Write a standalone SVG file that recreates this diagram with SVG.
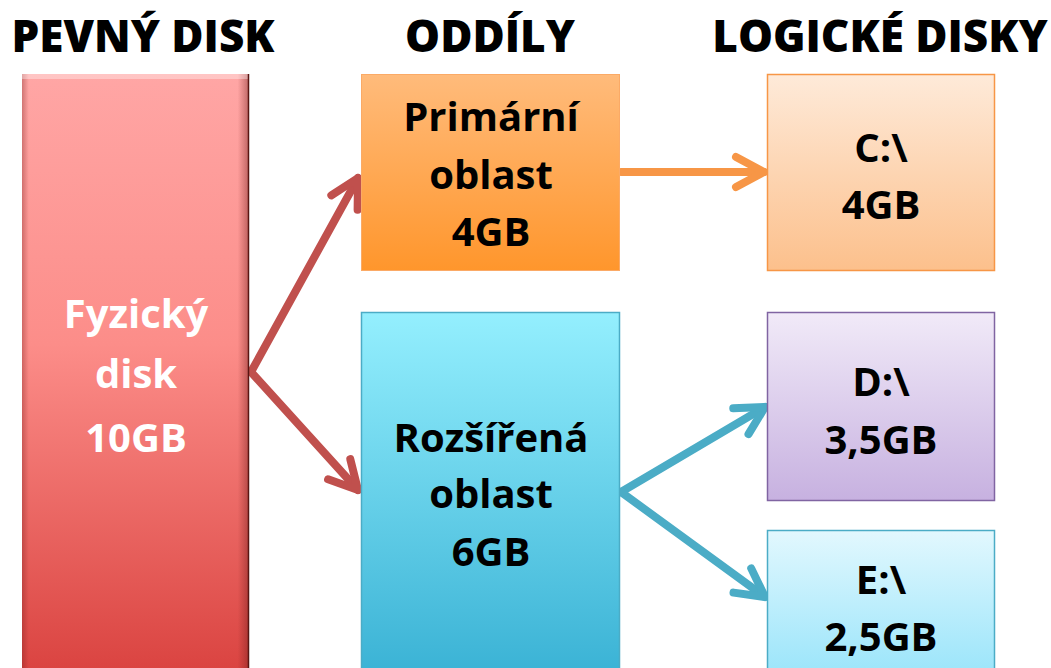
<svg xmlns="http://www.w3.org/2000/svg" width="1051" height="668" viewBox="0 0 1051 668">
<style>
.title{font-family:"Open Sans",Lato,"Liberation Sans",sans-serif;font-weight:800;font-size:44px;fill:#000;text-anchor:middle}
.lbl{font-family:"Open Sans",Lato,"Liberation Sans",sans-serif;font-weight:700;font-size:40px;fill:#000;text-anchor:middle}
.wl{fill:#fff}
.conn{fill:none;stroke-width:8;stroke-linecap:round;stroke-linejoin:round}
</style>
<defs>
<linearGradient id="gRed" x1="0" y1="0" x2="0" y2="1"><stop offset="0" stop-color="#ffa6a5"/><stop offset="0.45" stop-color="#fc8d89"/><stop offset="1" stop-color="#da4340"/></linearGradient>
<linearGradient id="gRedEdge" x1="0" y1="0" x2="1" y2="0"><stop offset="0" stop-color="#7a1e1c" stop-opacity="0.35"/><stop offset="0.03" stop-color="#7a1e1c" stop-opacity="0"/><stop offset="0.95" stop-color="#7a1e1c" stop-opacity="0"/><stop offset="1" stop-color="#6a1a18" stop-opacity="0.45"/></linearGradient>
<linearGradient id="gOr" x1="0" y1="0" x2="0" y2="1"><stop offset="0" stop-color="#ffbb7b"/><stop offset="1" stop-color="#ff962c"/></linearGradient>
<linearGradient id="gOrL" x1="0" y1="0" x2="0" y2="1"><stop offset="0" stop-color="#feead9"/><stop offset="1" stop-color="#fcc08c"/></linearGradient>
<linearGradient id="gCy" x1="0" y1="0" x2="0" y2="1"><stop offset="0" stop-color="#94effe"/><stop offset="1" stop-color="#38b1d4"/></linearGradient>
<linearGradient id="gPu" x1="0" y1="0" x2="0" y2="1"><stop offset="0" stop-color="#f1eaf8"/><stop offset="1" stop-color="#c7b1e0"/></linearGradient>
<linearGradient id="gCyL" x1="0" y1="0" x2="0" y2="1"><stop offset="0" stop-color="#e2f8fe"/><stop offset="1" stop-color="#98e4fa"/></linearGradient>
<marker id="mRed" markerUnits="userSpaceOnUse" markerWidth="60" markerHeight="60" viewBox="-40 -30 60 60" refX="0" refY="0" orient="auto"><path d="M-28,-15 L0,0 L-28,15" fill="none" stroke="#c0504d" stroke-width="8" stroke-linecap="round" stroke-linejoin="round"/></marker>
<marker id="mOr" markerUnits="userSpaceOnUse" markerWidth="60" markerHeight="60" viewBox="-40 -30 60 60" refX="0" refY="0" orient="auto"><path d="M-28,-15 L0,0 L-28,15" fill="none" stroke="#f79646" stroke-width="8" stroke-linecap="round" stroke-linejoin="round"/></marker>
<marker id="mCy" markerUnits="userSpaceOnUse" markerWidth="60" markerHeight="60" viewBox="-40 -30 60 60" refX="0" refY="0" orient="auto"><path d="M-28,-15 L0,0 L-28,15" fill="none" stroke="#4bacc6" stroke-width="8" stroke-linecap="round" stroke-linejoin="round"/></marker>
</defs>
<rect width="1051" height="668" fill="#fff"/>
<g id="titles">
<text class="title" x="143" y="52">PEVNÝ DISK</text>
<text class="title" x="490" y="52">ODDÍLY</text>
<text class="title" x="880" y="52">LOGICKÉ DISKY</text>
</g>
<g id="connectors">
<path class="conn" stroke="#c0504d" d="M251,372 L358,178" marker-end="url(#mRed)"/>
<path class="conn" stroke="#c0504d" d="M251,372 L358,490" marker-end="url(#mRed)"/>
<path class="conn" stroke="#f79646" d="M621,172 L764,172" marker-end="url(#mOr)"/>
<path class="conn" stroke="#4bacc6" d="M621,492 L765,407" marker-end="url(#mCy)"/>
<path class="conn" stroke="#4bacc6" d="M621,492 L765,597" marker-end="url(#mCy)"/>
</g>
<g id="node-fyzicky">
<rect x="22" y="74" width="227" height="600" fill="url(#gRed)"/>
<rect x="22" y="74" width="227" height="600" fill="url(#gRedEdge)"/>
<rect x="22" y="74" width="227" height="5" fill="#fff" opacity="0.35"/>
<line x1="248.5" y1="74" x2="248.5" y2="668" stroke="#5a1512" stroke-width="1.5"/>
<text class="lbl wl" x="136" y="328">Fyzický</text>
<text class="lbl wl" x="136" y="388">disk</text>
<text class="lbl wl" x="136" y="452">10GB</text>
</g>
<g id="node-primarni">
<rect x="361.5" y="74.5" width="258" height="196" fill="url(#gOr)" stroke="#fbaa66" stroke-width="1"/>
<text class="lbl" x="491" y="131">Primární</text>
<text class="lbl" x="491" y="189">oblast</text>
<text class="lbl" x="491" y="246">4GB</text>
</g>
<g id="node-rozsirena">
<rect x="361.5" y="312.5" width="258" height="370" fill="url(#gCy)" stroke="#4bacc6" stroke-width="1.5"/>
<text class="lbl" x="491" y="452">Rozšířená</text>
<text class="lbl" x="491" y="508">oblast</text>
<text class="lbl" x="491" y="566">6GB</text>
</g>
<g id="node-c">
<rect x="767.5" y="74.5" width="227" height="196" fill="url(#gOrL)" stroke="#f79646" stroke-width="1.5"/>
<text class="lbl" x="881" y="162">C:\</text>
<text class="lbl" x="881" y="219">4GB</text>
</g>
<g id="node-d">
<rect x="767.5" y="312.5" width="227" height="188" fill="url(#gPu)" stroke="#8064a2" stroke-width="1.5"/>
<text class="lbl" x="881" y="396">D:\</text>
<text class="lbl" x="881" y="454">3,5GB</text>
</g>
<g id="node-e">
<rect x="767.5" y="530.5" width="227" height="150" fill="url(#gCyL)" stroke="#4bacc6" stroke-width="1.5"/>
<text class="lbl" x="881" y="594">E:\</text>
<text class="lbl" x="881" y="651">2,5GB</text>
</g>
</svg>
